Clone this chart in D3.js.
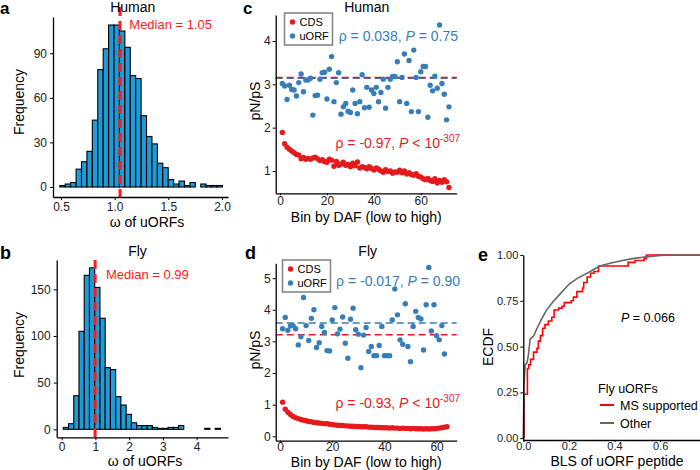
<!DOCTYPE html>
<html><head><meta charset="utf-8">
<script src="https://cdn.jsdelivr.net/npm/d3@7"></script>
<style>
body{margin:0;background:#fff;}
svg{display:block;}
</style></head><body>
<svg id="fig" width="700" height="470"></svg>
<script>
// ---------------- DATA ----------------
// Panel a: human uORF omega histogram
const humanOmegaCounts = [1,2,3,12,17,24,45,79,93,109,109,105,94,75,73,48,34,29,16,13,5,2,4,1,3,0,2,1,1,1];
const humanBinStart = 0.489, humanBinWidth = 0.0505;
const humanMedian = 1.05;
const humanHistXTicks = [0.5, 1.0, 1.5, 2.0];
const humanHistYTicks = [0, 30, 60, 90];

// Panel b: fly uORF omega histogram
const flyOmegaCounts = [2,6,36,105,165,173,152,119,66,64,35,26,16,7,4,4,4,2,1,1,2,2,4,0,0,0,0,1,0,1];
const flyBinStart = 0.047, flyBinWidth = 0.1553;
const flyMedian = 0.99;
const flyHistXTicks = [0, 1, 2, 3, 4];
const flyHistYTicks = [0, 50, 100, 150];

// Panel c: human pN/pS by DAF bin
const humanCDS = [1.89,1.63,1.55,1.50,1.46,1.42,1.38,1.37,1.28,1.31,
  1.27,1.29,1.27,1.30,1.32,1.28,1.24,1.26,1.22,1.20,
  1.27,1.25,1.11,1.22,1.13,1.16,1.20,1.13,1.15,1.10,
  1.18,1.12,1.21,1.07,1.10,1.08,1.05,1.10,1.06,1.02,
  1.07,1.04,1.00,0.97,1.03,0.99,1.00,0.95,0.98,0.97,
  1.02,0.96,1.00,0.93,0.96,0.92,0.90,0.94,0.88,0.86,
  0.82,0.80,0.83,0.78,0.76,0.82,0.72,0.78,0.74,0.80,
  0.75,0.62];
const humanUORF = [3.02,2.96,2.65,2.98,2.88,2.87,2.73,3.04,3.24,2.83,
  3.10,3.10,3.14,2.29,2.74,2.75,3.12,3.27,3.28,2.66,
  3.35,3.64,2.60,3.04,3.27,2.31,2.48,2.56,2.38,2.35,
  2.87,2.56,2.32,2.60,3.22,2.46,2.93,2.47,2.87,2.79,
  2.93,2.60,2.81,3.12,2.45,2.93,3.12,3.18,3.18,3.52,
  2.60,3.16,3.70,2.56,3.55,2.37,3.79,3.16,2.37,3.29,
  3.41,3.41,2.24,2.98,2.85,3.19,2.91,4.37,3.02,2.77,
  2.18,2.48];
const humanCDSRef = 3.16, humanUORFRef = 3.14;
const humanScatterXTicks = [0, 20, 40, 60];
const humanScatterYTicks = [1, 2, 3, 4];

// Panel d: fly pN/pS by DAF bin
const flyCDS = [1.08,0.86,0.76,0.69,0.63,0.59,0.56,0.53,0.51,0.49,
  0.47,0.46,0.44,0.43,0.42,0.41,0.40,0.40,0.38,0.37,
  0.36,0.35,0.34,0.34,0.33,0.33,0.32,0.32,0.31,0.31,
  0.30,0.30,0.30,0.29,0.29,0.28,0.28,0.28,0.27,0.27,
  0.27,0.26,0.27,0.26,0.26,0.25,0.26,0.25,0.25,0.24,
  0.25,0.24,0.24,0.24,0.23,0.24,0.23,0.24,0.24,0.25,
  0.26,0.27,0.29,0.30];
const flyUORF = [3.40,3.76,3.35,3.49,3.50,3.40,2.89,3.15,4.39,3.50,
  3.03,3.73,4.00,2.81,2.96,3.47,3.28,2.71,2.70,3.68,
  4.07,3.24,3.39,3.77,2.94,2.47,3.70,4.05,3.37,3.23,
  2.17,3.20,3.44,2.68,2.84,2.55,2.55,2.87,3.47,2.55,
  2.55,2.55,3.68,4.66,3.84,3.05,2.91,4.19,2.84,2.36,
  3.47,3.95,3.76,3.71,2.73,4.16,5.34,3.33,4.16,3.18,
  3.05,3.50,2.60];
const flyCDSRef = 3.21, flyUORFRef = 3.58;
const flyScatterXTicks = [0, 20, 40, 60];
const flyScatterYTicks = [0, 1, 2, 3, 4, 5];

// Panel e: ECDF of BLS
const ecdfMS = [[0.003,0.24],[0.018,0.38],[0.024,0.40],[0.032,0.43],[0.045,0.47],[0.06,0.49],[0.066,0.53],[0.075,0.56],[0.085,0.60],[0.095,0.62],[0.11,0.64],[0.125,0.66],[0.135,0.70],[0.155,0.71],[0.17,0.72],[0.18,0.74],[0.21,0.75],[0.22,0.77],[0.235,0.80],[0.26,0.82],[0.265,0.85],[0.28,0.88],[0.295,0.90],[0.31,0.91],[0.33,0.94],[0.46,0.96],[0.49,0.97],[0.53,0.98],[0.54,1.0]];
const ecdfOther = [[0,0],[0.001,0.10],[0.003,0.28],[0.008,0.40],[0.016,0.41],[0.022,0.45],[0.03,0.54],[0.045,0.557],[0.066,0.615],[0.08,0.65],[0.1,0.695],[0.13,0.745],[0.16,0.785],[0.2,0.84],[0.24,0.875],[0.28,0.90],[0.336,0.94],[0.38,0.955],[0.424,0.967],[0.48,0.98],[0.54,0.99],[0.6,0.998],[0.65,1.0]];
const ecdfXTicks = [0, 0.2, 0.4, 0.6];
const ecdfYTicks = [0, 0.25, 0.5, 0.75, 1.0];

// ---------------- DRAWING ----------------
const FONT = '"Liberation Sans", Arial, Helvetica, sans-serif';
const HIST_FILL = "#1f9bd7", BLUE = "#377EB8", RED = "#E41A1C";
const svg = d3.select("#fig").attr("font-family", FONT);

function styleAxis(g, fs) {
  g.attr("font-family", FONT).attr("font-size", fs);
  g.select(".domain").attr("stroke", "#000").attr("stroke-width", 1.3);
  g.selectAll(".tick line").attr("stroke", "#000").attr("stroke-width", 1);
  g.selectAll(".tick text").attr("fill", "#222");
}
function txt(x, y, s, o = {}) {
  const t = svg.append("text").attr("x", x).attr("y", y).text(s)
    .attr("font-size", o.size || 14).attr("fill", o.fill || "#000")
    .attr("text-anchor", o.anchor || "start");
  if (o.weight) t.attr("font-weight", o.weight);
  return t;
}
function vtxt(x, y, s, size) {
  svg.append("text").attr("transform", `translate(${x},${y}) rotate(-90)`)
    .attr("text-anchor", "middle").attr("font-size", size || 14).text(s);
}

function histPanel(c) {
  const x = d3.scaleLinear().domain(c.xDomain).range([c.left, c.right]);
  const y = d3.scaleLinear().domain(c.yDomain).range([c.bottom, c.top]);
  const bins = c.counts.map((n, i) => ({x0: c.start + i * c.width, x1: c.start + (i + 1) * c.width, n}));
  svg.append("g").selectAll("rect").data(bins).join("rect")
    .attr("x", d => x(d.x0)).attr("width", d => x(d.x1) - x(d.x0))
    .attr("y", d => y(d.n)).attr("height", d => y(0) - y(d.n))
    .attr("fill", HIST_FILL).attr("stroke", "#000").attr("stroke-width", 1.1);
  svg.append("line").attr("x1", x(c.median)).attr("x2", x(c.median))
    .attr("y1", c.medTop).attr("y2", c.bottom)
    .attr("stroke", "#ff1a1a").attr("stroke-width", 3).attr("stroke-dasharray", "9,5");
  const gx = svg.append("g").attr("transform", `translate(0,${c.bottom})`)
    .call(d3.axisBottom(x).tickValues(c.xTicks).tickFormat(c.xFmt).tickSize(3).tickSizeOuter(0).tickPadding(2));
  styleAxis(gx, 12);
  const gy = svg.append("g").attr("transform", `translate(${c.left},0)`)
    .call(d3.axisLeft(y).tickValues(c.yTicks).tickSize(3).tickSizeOuter(0).tickPadding(3));
  styleAxis(gy, 12);
  return x;
}

// Panel a
histPanel({counts: humanOmegaCounts, start: humanBinStart, width: humanBinWidth, median: humanMedian,
  xDomain: [0.4255, 2.056], yDomain: [-6.73, 114.4], left: 53, right: 228, top: 17, bottom: 197, medTop: 7,
  xTicks: humanHistXTicks, yTicks: humanHistYTicks, xFmt: d3.format(".1f")});
txt(132.7, 12, "Human", {anchor: "middle"});
txt(129.3, 29, "Median = " + humanMedian.toFixed(2), {fill: "#ff1a1a", size: 13});
txt(0, 13.5, "a", {size: 17, weight: "bold"});
vtxt(23.5, 102, "Frequency");
txt(147, 226.5, "ω of uORFs", {anchor: "middle"});

// Panel b
histPanel({counts: flyOmegaCounts, start: flyBinStart, width: flyBinWidth, median: flyMedian,
  xDomain: [-0.148, 4.93], yDomain: [-8.57, 181.4], left: 56.7, right: 228, top: 260, bottom: 437.3, medTop: 260,
  xTicks: flyHistXTicks, yTicks: flyHistYTicks, xFmt: d3.format("d")});
txt(137.5, 256, "Fly", {anchor: "middle"});
txt(106, 279, "Median = " + flyMedian.toFixed(2), {fill: "#ff1a1a", size: 13});
txt(0, 259, "b", {size: 18, weight: "bold"});
vtxt(23.5, 345, "Frequency");
txt(145, 466, "ω of uORFs", {anchor: "middle"});

function statText(xr, yb, rho, pPart, fill) {
  const t = svg.append("text").attr("x", xr).attr("y", yb).attr("text-anchor", "end")
    .attr("font-size", 14).attr("fill", fill);
  t.append("tspan").text(`ρ = ${rho}, `);
  t.append("tspan").attr("font-style", "italic").text("P");
  if (pPart.sup) {
    t.append("tspan").text(" < 10");
    t.append("tspan").attr("font-size", 10).attr("dy", -6).text(pPart.sup);
  } else {
    t.append("tspan").text(" = " + pPart.eq);
  }
}

function scatterPanel(c) {
  const x = d3.scaleLinear().domain(c.xDomain).range([c.left, c.right]);
  const y = d3.scaleLinear().domain(c.yDomain).range([c.bottom, c.top]);
  svg.append("line").attr("x1", c.left).attr("x2", c.right).attr("y1", y(c.uorfRef)).attr("y2", y(c.uorfRef))
    .attr("stroke", BLUE).attr("stroke-width", 1.5).attr("stroke-dasharray", "7,4");
  svg.append("line").attr("x1", c.left).attr("x2", c.right).attr("y1", y(c.cdsRef)).attr("y2", y(c.cdsRef))
    .attr("stroke", RED).attr("stroke-width", 1.5).attr("stroke-dasharray", "7,4");
  svg.append("g").selectAll("circle").data(c.uorf).join("circle")
    .attr("cx", (d, i) => x(i + 1)).attr("cy", d => y(d)).attr("r", 2.7).attr("fill", BLUE);
  svg.append("g").selectAll("circle").data(c.cds).join("circle")
    .attr("cx", (d, i) => x(i + 1)).attr("cy", d => y(d)).attr("r", 2.7).attr("fill", RED);
  const gx = svg.append("g").attr("transform", `translate(0,${c.bottom})`)
    .call(d3.axisBottom(x).tickValues(c.xTicks).tickFormat(d3.format("d")).tickSize(c.xTick).tickSizeOuter(0).tickPadding(c.xPad));
  styleAxis(gx, 12);
  const gy = svg.append("g").attr("transform", `translate(${c.left},0)`)
    .call(d3.axisLeft(y).tickValues(c.yTicks).tickFormat(d3.format("d")).tickSize(3).tickSizeOuter(0).tickPadding(2));
  styleAxis(gy, 12);
  const L = c.legend;
  svg.append("rect").attr("x", L.x).attr("y", L.y).attr("width", 48).attr("height", 32)
    .attr("fill", "#fff").attr("stroke", "#888").attr("stroke-width", 1.6);
  [["CDS", RED], ["uORF", BLUE]].forEach(([lab, col], i) => {
    svg.append("circle").attr("cx", L.x + 8).attr("cy", L.y + 9 + i * 14).attr("r", 2.7).attr("fill", col);
    txt(L.x + 15, L.y + 13 + i * 14, lab, {size: 11});
  });
}

// Panel c
scatterPanel({cds: humanCDS, uorf: humanUORF, cdsRef: humanCDSRef, uorfRef: humanUORFRef,
  xDomain: [-1.83, 75.3], yDomain: [0.485, 4.60], left: 275.7, right: 456.7, top: 15, bottom: 193.3, xTick: 2, xPad: 1,
  xTicks: humanScatterXTicks, yTicks: humanScatterYTicks, legend: {x: 284.5, y: 13}});
txt(366.7, 12, "Human", {anchor: "middle"});
txt(243, 13.5, "c", {size: 17, weight: "bold"});
vtxt(260, 101, "pN/pS");
txt(366.3, 221.5, "Bin by DAF (low to high)", {anchor: "middle"});
statText(458, 40.5, "0.038", {eq: "0.75"}, BLUE);
statText(460, 147.5, "-0.97", {sup: "-307"}, RED);

// Panel d
scatterPanel({cds: flyCDS, uorf: flyUORF, cdsRef: flyCDSRef, uorfRef: flyUORFRef,
  xDomain: [-1.65, 67.7], yDomain: [-0.139, 5.47], left: 275.7, right: 456.7, top: 263.3, bottom: 440.7, xTick: 2, xPad: 0,
  xTicks: flyScatterXTicks, yTicks: flyScatterYTicks, legend: {x: 282.5, y: 260}});
txt(367.7, 256, "Fly", {anchor: "middle"});
txt(245, 259, "d", {size: 18, weight: "bold"});
vtxt(260, 350, "pN/pS");
txt(366.3, 466.8, "Bin by DAF (low to high)", {anchor: "middle"});
statText(460, 285.5, "-0.017", {eq: "0.90"}, BLUE);
statText(460, 407.5, "-0.93", {sup: "-307"}, RED);

// Panel e
(function () {
  const left = 523.3, right = 705, top = 255, bottom = 440;
  const x = d3.scaleLinear().domain([0, (right - left) / 228]).range([left, right]);
  const y = d3.scaleLinear().domain([-0.01, 1.0]).range([bottom, top]);
  const xmax = x.domain()[1];
  const msPts = [[ecdfMS[0][0], 0], ...ecdfMS, [xmax, 1]];
  const otherPts = [...ecdfOther, [xmax, 1]];
  svg.append("path").attr("d", d3.line().x(d => x(d[0])).y(d => y(d[1])).curve(d3.curveStepAfter)(msPts))
    .attr("fill", "none").attr("stroke", "#ff0000").attr("stroke-width", 1.6);
  svg.append("path").attr("d", d3.line().x(d => x(d[0])).y(d => y(d[1]))(otherPts))
    .attr("fill", "none").attr("stroke", "#666").attr("stroke-width", 1.6);
  const gx = svg.append("g").attr("transform", `translate(0,${bottom})`)
    .call(d3.axisBottom(x).tickValues(ecdfXTicks).tickFormat(d3.format(".1f")).tickSize(2).tickSizeOuter(0).tickPadding(0.5));
  styleAxis(gx, 11);
  const gy = svg.append("g").attr("transform", `translate(${left},0)`)
    .call(d3.axisLeft(y).tickValues(ecdfYTicks).tickFormat(d3.format(".2f")).tickSize(3).tickSizeOuter(0).tickPadding(2));
  styleAxis(gy, 11);
  txt(478, 261, "e", {size: 18, weight: "bold"});
  svg.append("text").attr("transform", "translate(493,347) rotate(-90)").attr("text-anchor", "middle")
    .attr("font-size", 14).text("ECDF");
  txt(617, 465.5, "BLS of uORF peptide", {anchor: "middle"});
  const p = svg.append("text").attr("x", 621).attr("y", 321.5).attr("font-size", 12.5);
  p.append("tspan").attr("font-style", "italic").text("P");
  p.append("tspan").text(" = 0.066");
  txt(598, 393, "Fly uORFs", {size: 12.5});
  [["MS supported", "#ff0000"], ["Other", "#666"]].forEach(([lab, col], i) => {
    const yy = 405 + i * 18;
    svg.append("line").attr("x1", 600).attr("x2", 614).attr("y1", yy).attr("y2", yy)
      .attr("stroke", col).attr("stroke-width", 2);
    txt(620, yy + 4.5, lab, {size: 12.5});
  });
})();
</script>
</body></html>
